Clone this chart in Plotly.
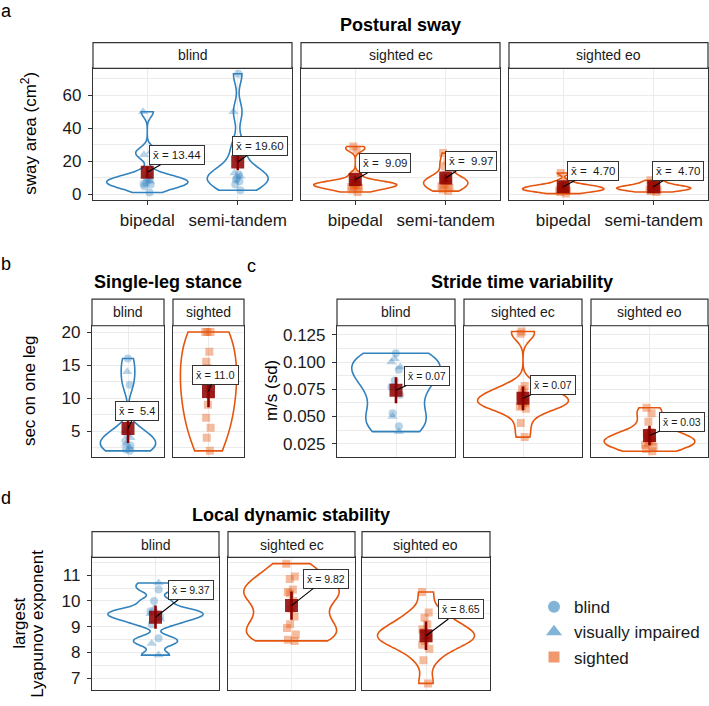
import numpy as np
import plotly.graph_objects as go

W, H = 709, 706
FONT = "Liberation Sans, Arial, Helvetica, sans-serif"
BLUE = "#3182bd"
ORANGE = "#e6550d"
BLUE_PT = "rgba(49,130,189,0.35)"
ORANGE_PT = "rgba(230,85,13,0.40)"
MEAN_COL = "rgba(139,0,0,0.85)"
ERR_COL = "#8b0000"
TXT = "#1a1a1a"
FRAME = "#333333"
GRID = "#EBEBEB"

# ------------------------------------------------------------------ data
conditions3 = ["blind", "sighted ec", "sighted eo"]
conditions2 = ["blind", "sighted"]
stances = ["bipedal", "semi-tandem"]
legend_names = ["blind", "visually impaired", "sighted"]

# (a) Postural sway, cm^2
sway_bipedal_blind = [1.2, 5.0, 6.0, 6.5, 7.0, 9.0, 10.0, 12.0]
sway_bipedal_vi = [8.0, 24.0, 26.0, 50.0]
sway_semitandem_blind = [2.5, 6.0, 8.0, 9.0, 10.0, 12.0, 22.0, 73.0]
sway_semitandem_vi = [11.0, 13.0, 30.0, 50.0]
sway_bipedal_ec = [1.5, 3.0, 4.0, 4.5, 5.0, 5.5, 6.0, 6.5, 7.0, 7.5, 8.0, 12.0, 27.0, 29.0]
sway_semitandem_ec = [2.0, 3.0, 4.0, 5.0, 6.0, 7.0, 8.0, 8.5, 9.0, 10.0, 12.0, 17.0, 20.0, 25.0]
sway_bipedal_eo = [0.5, 1.5, 2.0, 2.5, 3.0, 3.0, 3.5, 4.0, 4.5, 5.0, 5.5, 6.0, 8.0, 13.0]
sway_semitandem_eo = [1.5, 2.0, 2.5, 3.0, 3.5, 3.5, 4.0, 4.0, 4.5, 5.0, 5.5, 6.0, 7.5, 8.5]
sway_mean_bipedal = [13.44, 9.09, 4.70]
sway_mean_semitandem = [19.60, 9.97, 4.70]
sway_err_bipedal = [3.5, 2.0, 1.0]
sway_err_semitandem = [5.0, 2.0, 1.0]

# (b) Single-leg stance, sec on one leg
sls_blind = [2.0, 2.2, 2.8, 3.5, 4.5, 12.0, 16.0]
sls_vi = [2.5, 3.0, 4.0, 5.0, 14.0]
sls_sighted = [2.0, 4.0, 5.5, 7.0, 9.0, 10.5, 11.5, 13.0, 14.5, 15.5, 17.0, 20.0, 20.0, 20.0]
sls_mean = [5.4, 11.0]
sls_err = [2.2, 2.4]

# (c) Stride time variability, m/s (sd)
stv_blind = [0.041, 0.053, 0.070, 0.077, 0.083, 0.093, 0.108]
stv_vi = [0.036, 0.050, 0.0953, 0.100, 0.103]
stv_ec = [0.031, 0.044, 0.057, 0.059, 0.060, 0.062, 0.063, 0.065, 0.067, 0.069, 0.072, 0.075, 0.078, 0.126, 0.128]
stv_eo = [0.018, 0.020, 0.022, 0.024, 0.026, 0.027, 0.028, 0.030, 0.032, 0.034, 0.036, 0.045, 0.053, 0.058]
stv_mean = [0.074, 0.0666, 0.0324]
stv_err = [0.012, 0.011, 0.009]

# (d) Local dynamic stability, largest Lyapunov exponent
lds_blind = [8.55, 9.1, 9.4, 9.6, 10.0, 10.45]
lds_vi = [7.9, 8.35, 9.3, 9.5, 9.7, 10.7]
lds_ec = [8.45, 8.5, 8.7, 8.95, 9.1, 9.4, 9.7, 10.0, 10.3, 10.35, 10.45, 10.85, 10.95, 11.45]
lds_eo = [6.8, 7.7, 8.15, 8.3, 8.45, 8.55, 8.65, 8.7, 8.8, 8.9, 9.1, 9.35, 9.55, 10.35]
lds_mean = [9.37, 9.82, 8.65]
lds_err = [0.45, 0.55, 0.55]

# ------------------------------------------------------------------ helpers
fig = go.Figure()
layout = {}
annotations = []
shapes = []
counter = [0]


def px_x(p):
    return p / W


def px_y(p):
    return 1 - p / H


def new_axes(x0, x1, ytop, ybot, xrange, xtickvals, xticktext, show_x,
             yrange, ytick0, ydtick, yminor, show_y, yfmt=None):
    counter[0] += 1
    i = counter[0]
    xn = "xaxis" if i == 1 else f"xaxis{i}"
    yn = "yaxis" if i == 1 else f"yaxis{i}"
    xr = "x" if i == 1 else f"x{i}"
    yr = "y" if i == 1 else f"y{i}"
    xa = dict(domain=[px_x(x0), px_x(x1)], anchor=yr, range=xrange,
              tickmode="array", tickvals=xtickvals,
              showticklabels=show_x, ticks="outside" if show_x else "",
              ticklen=4, tickcolor=FRAME, tickwidth=1,
              tickfont=dict(size=17, color=TXT, family=FONT),
              showgrid=True, gridcolor=GRID, gridwidth=1, zeroline=False,
              showline=True, mirror=True, linecolor=FRAME, linewidth=1.2,
              fixedrange=True)
    if xticktext is not None:
        xa["ticktext"] = xticktext
    layout[xn] = xa
    ya = dict(domain=[px_y(ybot), px_y(ytop)], anchor=xr, range=yrange,
              tickmode="linear", tick0=ytick0, dtick=ydtick,
              showticklabels=show_y, ticks="outside" if show_y else "",
              ticklen=4, tickcolor=FRAME, tickwidth=1, ticklabelstandoff=3,
              tickfont=dict(size=17, color=TXT, family=FONT),
              showgrid=True, gridcolor=GRID, gridwidth=1, zeroline=False,
              minor=dict(tick0=ytick0, dtick=yminor, showgrid=True,
                         gridcolor=GRID, gridwidth=0.6),
              showline=True, mirror=True, linecolor=FRAME, linewidth=1.2,
              fixedrange=True)
    if yfmt:
        ya["tickformat"] = yfmt
    layout[yn] = ya
    return xr, yr


def strip(x0, x1, ytop, ybot, text):
    shapes.append(dict(type="rect", xref="paper", yref="paper",
                       x0=px_x(x0), x1=px_x(x1), y0=px_y(ybot), y1=px_y(ytop),
                       line=dict(color=FRAME, width=1.2), fillcolor="white",
                       layer="above"))
    annotations.append(dict(x=px_x((x0 + x1) / 2), y=px_y((ytop + ybot) / 2),
                            xref="paper", yref="paper", text=text, showarrow=False,
                            font=dict(size=14, color=TXT, family=FONT),
                            xanchor="center", yanchor="middle"))


def violin(xr, yr, pos, values, color, width, bw):
    fig.add_trace(go.Violin(y=values, x0=pos, xaxis=xr, yaxis=yr, width=width,
                            bandwidth=bw, spanmode="hard", scalemode="width",
                            line=dict(color=color, width=1.6),
                            fillcolor="rgba(0,0,0,0)", points=False,
                            box_visible=False, meanline_visible=False,
                            showlegend=False, hoverinfo="skip"))


def points(xr, yr, pos, values, symbol, color, size=8):
    fig.add_trace(go.Box(y=values, x0=pos, xaxis=xr, yaxis=yr, boxpoints="all",
                         jitter=0.7, pointpos=0, width=0.16,
                         line=dict(width=0, color=color),
                         fillcolor="rgba(0,0,0,0)",
                         marker=dict(symbol=symbol, size=size, color=color,
                                     line=dict(width=0)),
                         showlegend=False, hoverinfo="skip"))


def mean_mark(xr, yr, pos, m, err, text, dx, dy, fsize):
    fig.add_trace(go.Scatter(x=[pos], y=[m], xaxis=xr, yaxis=yr, mode="markers",
                             marker=dict(symbol="square", size=13, color=MEAN_COL,
                                         line=dict(width=0)),
                             error_y=dict(type="data", array=[err], color=ERR_COL,
                                          thickness=2.6, width=0),
                             showlegend=False, hoverinfo="skip"))
    annotations.append(dict(x=pos, y=m, xref=xr, yref=yr, text=text.replace(" ", "\u00a0"),
                            showarrow=True, arrowhead=0, arrowwidth=1.1,
                            arrowcolor="black", ax=dx, ay=dy, standoff=0,
                            bgcolor="white", bordercolor=FRAME, borderwidth=1,
                            borderpad=3, font=dict(size=fsize, color=TXT, family=FONT)))


def text(xpx, ypx, s, size, bold=False, angle=0):
    annotations.append(dict(x=px_x(xpx), y=px_y(ypx), xref="paper", yref="paper",
                            text=f"<b>{s}</b>" if bold else s, showarrow=False,
                            textangle=angle, xanchor="center", yanchor="middle",
                            font=dict(size=size, color="black", family=FONT)))


XBAR = "x\u0304 = "

# ------------------------------------------------------------------ panel a
a_cols = [(93, 292), (301, 500), (509, 708)]
a_top, a_sb, a_bot = 40, 66, 199
sway_groups = [
    [(sway_bipedal_blind, sway_bipedal_vi), (sway_semitandem_blind, sway_semitandem_vi)],
    [(sway_bipedal_ec,), (sway_semitandem_ec,)],
    [(sway_bipedal_eo,), (sway_semitandem_eo,)],
]
a_widths = [[0.9, 0.67], [0.92, 0.49], [0.9, 0.82]]
a_bw = [[3.2, 6.0], [1.8, 3.0], [1.2, 1.2]]
a_lab = [[(30, -17), (22.5, -16)], [(30, -16), (25, -16.5)], [(29.5, -15.6), (24.5, -15.6)]]
for k, cond in enumerate(conditions3):
    x0, x1 = a_cols[k]
    xr, yr = new_axes(x0, x1, a_sb, a_bot, [0.4, 2.6], [1, 2], stances, True,
                      [-3.4, 76.3], 0, 20, 10, k == 0)
    strip(x0, x1, a_top, a_sb, cond)
    means = [sway_mean_bipedal[k], sway_mean_semitandem[k]]
    errs = [sway_err_bipedal[k], sway_err_semitandem[k]]
    for j in range(2):
        pos = j + 1
        grp = sway_groups[k][j]
        color = BLUE if k == 0 else ORANGE
        violin(xr, yr, pos, [v for g in grp for v in g], color, a_widths[k][j], a_bw[k][j])
        if k == 0:
            points(xr, yr, pos, grp[0], "circle", BLUE_PT)
            points(xr, yr, pos, grp[1], "triangle-up", BLUE_PT, 9)
        else:
            points(xr, yr, pos, grp[0], "square", ORANGE_PT)
        mean_mark(xr, yr, pos, means[j], errs[j], XBAR + "{:5.2f}".format(means[j]),
                  a_lab[k][j][0], a_lab[k][j][1], 11.5)

# ------------------------------------------------------------------ panel b
b_cols = [(92, 164), (173, 244)]
bc_top, bc_sb, bc_bot = 299, 326, 459
b_widths = [0.92, 0.95]
b_bw = [1.5, 4.0]
b_lab = [(8.7, -17.6), (6.7, -16.8)]
for k, cond in enumerate(conditions2):
    x0, x1 = b_cols[k]
    xr, yr = new_axes(x0, x1, bc_sb, bc_bot, [0.4, 1.6], [1], None, False,
                      [1.0, 20.95], 0, 5, 2.5, k == 0)
    strip(x0, x1, bc_top, bc_sb, cond)
    if k == 0:
        violin(xr, yr, 1, sls_blind + sls_vi, BLUE, b_widths[k], b_bw[k])
        points(xr, yr, 1, sls_blind, "circle", BLUE_PT)
        points(xr, yr, 1, sls_vi, "triangle-up", BLUE_PT, 9)
    else:
        violin(xr, yr, 1, sls_sighted, ORANGE, b_widths[k], b_bw[k])
        points(xr, yr, 1, sls_sighted, "square", ORANGE_PT)
    mean_mark(xr, yr, 1, sls_mean[k], sls_err[k], XBAR + "{:4.1f}".format(sls_mean[k]),
              b_lab[k][0], b_lab[k][1], 11)

# ------------------------------------------------------------------ panel c
c_cols = [(337, 455), (464, 582), (591, 708)]
c_widths = [0.9, 0.92, 0.93]
c_bw = [0.013, 0.007, 0.006]
c_lab = [(31, -14), (30, -13), (32.5, -13.7)]
c_data = [(stv_blind, stv_vi), (stv_ec,), (stv_eo,)]
for k, cond in enumerate(conditions3):
    x0, x1 = c_cols[k]
    xr, yr = new_axes(x0, x1, bc_sb, bc_bot, [0.4, 1.6], [1], None, False,
                      [0.0123, 0.1333], 0, 0.025, 0.0125, k == 0, ".3f")
    strip(x0, x1, bc_top, bc_sb, cond)
    grp = c_data[k]
    if k == 0:
        violin(xr, yr, 1, grp[0] + grp[1], BLUE, c_widths[k], c_bw[k])
        points(xr, yr, 1, grp[0], "circle", BLUE_PT)
        points(xr, yr, 1, grp[1], "triangle-up", BLUE_PT, 9)
    else:
        violin(xr, yr, 1, grp[0], ORANGE, c_widths[k], c_bw[k])
        points(xr, yr, 1, grp[0], "square", ORANGE_PT)
    mean_mark(xr, yr, 1, stv_mean[k], stv_err[k], XBAR + "{:.2f}".format(stv_mean[k]),
              c_lab[k][0], c_lab[k][1], 10.5)

# ------------------------------------------------------------------ panel d
d_cols = [(92, 219), (228, 355), (362, 490)]
d_top, d_sb, d_bot = 534, 560, 694
d_widths = [0.9, 0.9, 0.91]
d_bw = [0.15, 0.4, 0.35]
d_lab = [(35, -27), (34, -26.7), (35, -26.3)]
d_data = [(lds_blind, lds_vi), (lds_ec,), (lds_eo,)]
for k, cond in enumerate(conditions3):
    x0, x1 = d_cols[k]
    xr, yr = new_axes(x0, x1, d_sb, d_bot, [0.4, 1.6], [1], None, False,
                      [6.54, 11.69], 0, 1, 0.5, k == 0)
    strip(x0, x1, d_top, d_sb, cond)
    grp = d_data[k]
    if k == 0:
        violin(xr, yr, 1, grp[0] + grp[1], BLUE, d_widths[k], d_bw[k])
        points(xr, yr, 1, grp[0], "circle", BLUE_PT)
        points(xr, yr, 1, grp[1], "triangle-up", BLUE_PT, 9)
    else:
        violin(xr, yr, 1, grp[0], ORANGE, d_widths[k], d_bw[k])
        points(xr, yr, 1, grp[0], "square", ORANGE_PT)
    mean_mark(xr, yr, 1, lds_mean[k], lds_err[k], XBAR + "{:.2f}".format(lds_mean[k]),
              d_lab[k][0], d_lab[k][1], 10.5)

# ------------------------------------------------------------------ titles & labels
text(6, 8, "a", 18)
text(6, 264, "b", 18)
text(251, 266, "c", 18)
text(6, 500, "d", 18)
text(400, 22, "Postural sway", 18, bold=True)
text(168, 282, "Single-leg stance", 18, bold=True)
text(522, 282, "Stride time variability", 18, bold=True)
text(291, 517, "Local dynamic stability", 18, bold=True)
text(29, 132, "sway area (cm<sup>2</sup>)", 17, angle=-90)
text(29, 392, "sec on one leg", 17, angle=-90)
text(271, 392, "m/s (sd)", 17, angle=-90)
text(20, 627, "largest", 17, angle=-90)
text(38, 627, "Lyapunov exponent", 17, angle=-90)

# ------------------------------------------------------------------ legend
leg_symbols = ["circle", "triangle-up", "square"]
leg_colors = ["rgba(49,130,189,0.6)", "rgba(49,130,189,0.6)", "rgba(230,85,13,0.6)"]
leg_sizes = [12, 14, 11]
for name, sym, col, sz in zip(legend_names, leg_symbols, leg_colors, leg_sizes):
    fig.add_trace(go.Scatter(x=[None], y=[None], mode="markers", name=name,
                             marker=dict(symbol=sym, color=col, size=sz),
                             xaxis="x", yaxis="y", showlegend=True))

fig.update_layout(
    width=W, height=H, margin=dict(l=0, r=0, t=0, b=0),
    paper_bgcolor="white", plot_bgcolor="white",
    font=dict(family=FONT, color=TXT),
    violinmode="overlay", boxmode="overlay",
    shapes=shapes, annotations=annotations,
    legend=dict(x=px_x(534), y=px_y(592), xanchor="left", yanchor="top",
                font=dict(size=17, color=TXT, family=FONT),
                bgcolor="rgba(0,0,0,0)", itemsizing="trace", tracegroupgap=0),
    **layout,
)
fig.write_html("out.html", config={"displayModeBar": False},
               post_script="document.body.style.margin='0';document.body.style.overflow='hidden';")
